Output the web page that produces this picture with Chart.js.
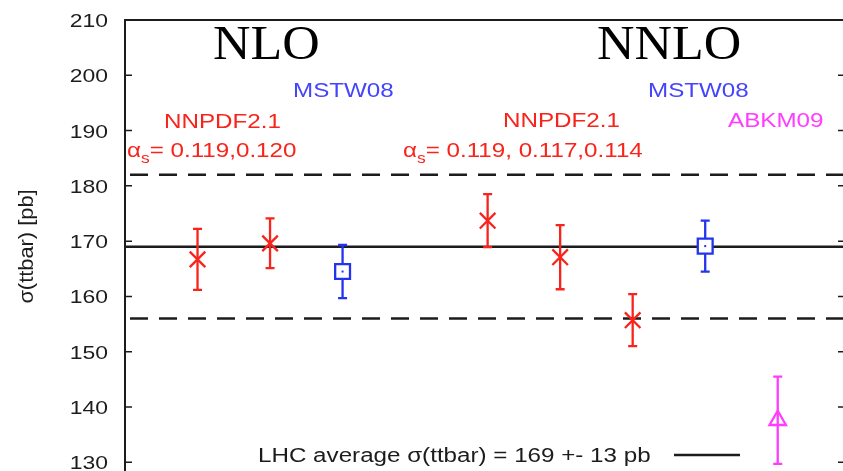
<!DOCTYPE html>
<html>
<head>
<meta charset="utf-8">
<script src="https://cdn.jsdelivr.net/npm/chart.js@4.4.1/dist/chart.umd.min.js"></script>
<style>
  html, body { margin: 0; padding: 0; background: #fff; overflow: hidden; }
  canvas { display: block; }
</style>
</head>
<body>
<canvas id="chart" width="843" height="471"></canvas>
<script>
// t-tbar production cross section at the LHC, predictions with several PDF sets (pb)
const yTicks = [130, 140, 150, 160, 170, 180, 190, 200, 210];

// NLO predictions
const nloNnpdfX = [1, 2];
const nloNnpdfSigma = [166.7, 169.6];
const nloNnpdfErr = [5.5, 4.5];
const nloMstwX = [3];
const nloMstwSigma = [164.5];
const nloMstwErr = [4.8];

// NNLO predictions
const nnloNnpdfX = [5, 6, 7];
const nnloNnpdfSigma = [173.7, 167.1, 155.7];
const nnloNnpdfErr = [4.8, 5.8, 4.7];
const nnloMstwX = [8];
const nnloMstwSigma = [169.1];
const nnloMstwErr = [4.6];
const nnloAbkmX = [9];
const nnloAbkmSigma = [137.6];
const nnloAbkmErr = [7.9];

// LHC measured average
const lhcAverage = 169;
const lhcError = 13;

const RED = '#f8241c';
const BLUE = '#2434ee';
const BLUE_TEXT = '#4444ff';
const MAGENTA = '#ff3cff';
const INK = '#1c1c1c';
const SANS = '"Liberation Sans", Arial, sans-serif';
const SERIF = '"Liberation Serif", "Times New Roman", serif';
const STRETCH = 1.24;

function points(xs, ys, errs) {
  return xs.map((x, i) => ({ x: x, y: ys[i], err: errs[i] }));
}

// text drawn with a horizontal stretch
function label(ctx, text, x, y, size, color, opts) {
  opts = opts || {};
  ctx.save();
  ctx.font = (opts.weight || '') + ' ' + size + 'px ' + (opts.family || SANS);
  ctx.fillStyle = color;
  ctx.textBaseline = 'alphabetic';
  ctx.textAlign = opts.align || 'left';
  ctx.translate(x, y);
  if (opts.rotate) ctx.rotate(opts.rotate);
  ctx.scale(opts.sx || STRETCH, opts.sy || 1);
  ctx.fillText(text, 0, 0);
  const w = ctx.measureText(text).width * (opts.sx || STRETCH);
  ctx.restore();
  return w;
}

// alpha_s label: greek alpha with subscript s, then the values
function alphaLabel(ctx, x, y, values) {
  let cx = x;
  cx += label(ctx, 'α', cx, y, 19.5, RED);
  cx += label(ctx, 's', cx, y + 6, 14, RED);
  label(ctx, '= ' + values, cx, y, 19.5, RED);
}

const decor = {
  id: 'decor',
  beforeDatasetsDraw(chart) {
    const { ctx, chartArea: a, scales: { x, y } } = chart;
    ctx.save();
    // LHC average and its band edges
    ctx.strokeStyle = INK;
    ctx.lineWidth = 2.5;
    const ym = y.getPixelForValue(lhcAverage);
    ctx.beginPath();
    ctx.moveTo(a.left, ym);
    ctx.lineTo(a.right, ym);
    ctx.stroke();
    ctx.setLineDash([18, 11]);
    [lhcAverage + lhcError, lhcAverage - lhcError].forEach(v => {
      const yy = y.getPixelForValue(v);
      ctx.beginPath();
      ctx.moveTo(a.left + 5, yy);
      ctx.lineTo(a.right, yy);
      ctx.stroke();
    });
    ctx.setLineDash([]);
    // error bars
    chart.data.datasets.forEach(ds => {
      ctx.strokeStyle = ds.borderColor;
      ctx.lineWidth = 2.3;
      ds.data.forEach(p => {
        const px = x.getPixelForValue(p.x);
        const top = y.getPixelForValue(p.y + p.err);
        const bot = y.getPixelForValue(p.y - p.err);
        ctx.beginPath();
        ctx.moveTo(px, top); ctx.lineTo(px, bot);
        ctx.moveTo(px - 4.5, top); ctx.lineTo(px + 4.5, top);
        ctx.moveTo(px - 4.5, bot); ctx.lineTo(px + 4.5, bot);
        ctx.stroke();
      });
    });
    ctx.restore();
  },
  afterDatasetsDraw(chart) {
    const { ctx, scales: { x, y } } = chart;
    // centre dot of the open squares
    chart.data.datasets.forEach(ds => {
      if (ds.pointStyle !== 'rect') return;
      ctx.fillStyle = ds.borderColor;
      ds.data.forEach(p => {
        ctx.fillRect(x.getPixelForValue(p.x) - 1, y.getPixelForValue(p.y) - 1, 2, 2);
      });
    });
  },
  afterDraw(chart) {
    const { ctx, chartArea: a, scales: { y } } = chart;
    ctx.save();
    // frame: left and top edges (right and bottom lie outside the view)
    ctx.strokeStyle = INK;
    ctx.lineWidth = 2;
    ctx.beginPath();
    ctx.moveTo(a.left, a.bottom + 2);
    ctx.lineTo(a.left, a.top);
    ctx.lineTo(a.right + 2, a.top);
    ctx.stroke();
    // inward tick marks and tick labels
    ctx.lineWidth = 1.5;
    yTicks.forEach(t => {
      const yy = y.getPixelForValue(t);
      ctx.beginPath();
      ctx.moveTo(a.left, yy); ctx.lineTo(a.left + 7, yy);
      ctx.moveTo(a.right - 5, yy); ctx.lineTo(a.right, yy);
      ctx.stroke();
      label(ctx, String(t), 108, yy + 7, 18.5, INK, { align: 'right' });
    });
    ctx.restore();

    // axis title
    label(ctx, 'σ(ttbar) [pb]', 33, 246.5, 21, INK, { align: 'center', rotate: -Math.PI / 2, sx: 1.04, sy: 1 });

    // order headings
    label(ctx, 'NLO', 213, 59, 49, '#000', { family: SERIF, sx: 1.06 });
    label(ctx, 'NNLO', 597, 59, 49, '#000', { family: SERIF, sx: 1.06 });

    // PDF set names
    label(ctx, 'MSTW08', 293, 96.5, 19.5, BLUE_TEXT);
    label(ctx, 'NNPDF2.1', 164, 128, 19.5, RED);
    alphaLabel(ctx, 127, 156.5, '0.119,0.120');

    label(ctx, 'MSTW08', 648, 96.5, 19.5, BLUE_TEXT);
    label(ctx, 'NNPDF2.1', 503, 126.5, 19.5, RED);
    label(ctx, 'ABKM09', 728, 126.5, 19.5, MAGENTA);
    alphaLabel(ctx, 403, 156.5, '0.119, 0.117,0.114');

    // key for the measured average
    label(ctx, 'LHC average σ(ttbar) = ' + lhcAverage + ' +- ' + lhcError + ' pb', 258, 461.5, 19.5, INK);
    ctx.save();
    ctx.strokeStyle = INK;
    ctx.lineWidth = 2.5;
    ctx.beginPath();
    ctx.moveTo(674, 455);
    ctx.lineTo(740, 455);
    ctx.stroke();
    ctx.restore();
  }
};

new Chart(document.getElementById('chart'), {
  type: 'scatter',
  data: {
    datasets: [
      { label: 'NNPDF2.1 NLO', data: points(nloNnpdfX, nloNnpdfSigma, nloNnpdfErr),
        pointStyle: 'crossRot', pointRadius: 11, borderColor: RED, backgroundColor: RED, borderWidth: 2.3 },
      { label: 'MSTW08 NLO', data: points(nloMstwX, nloMstwSigma, nloMstwErr),
        pointStyle: 'rect', pointRadius: 10.5, borderColor: BLUE, backgroundColor: '#fff', borderWidth: 2.3 },
      { label: 'NNPDF2.1 NNLO', data: points(nnloNnpdfX, nnloNnpdfSigma, nnloNnpdfErr),
        pointStyle: 'crossRot', pointRadius: 11, borderColor: RED, backgroundColor: RED, borderWidth: 2.3 },
      { label: 'MSTW08 NNLO', data: points(nnloMstwX, nnloMstwSigma, nnloMstwErr),
        pointStyle: 'rect', pointRadius: 10.5, borderColor: BLUE, backgroundColor: '#fff', borderWidth: 2.3 },
      { label: 'ABKM09 NNLO', data: points(nnloAbkmX, nnloAbkmSigma, nnloAbkmErr),
        pointStyle: 'triangle', pointRadius: 9.5, borderColor: MAGENTA, backgroundColor: 'rgba(0,0,0,0)', borderWidth: 2.3 }
    ]
  },
  options: {
    responsive: false,
    animation: false,
    events: [],
    devicePixelRatio: 1,
    layout: { autoPadding: false, padding: { left: 125, top: 20, right: 0, bottom: 0 } },
    scales: {
      x: { type: 'linear', min: 0, max: 9.9, display: false },
      y: { type: 'linear', min: 128.42, max: 210, display: false }
    },
    plugins: { legend: { display: false }, tooltip: { enabled: false } }
  },
  plugins: [decor]
});
</script>
</body>
</html>
